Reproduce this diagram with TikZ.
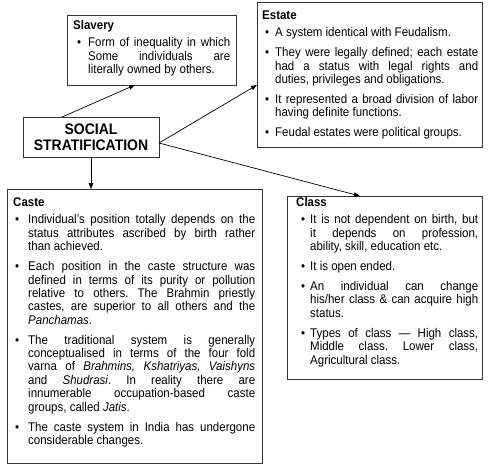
\documentclass[tikz,border=0pt]{standalone}
\usepackage{fontspec}
\setmainfont[FakeStretch=0.913]{Liberation Sans}
\usetikzlibrary{arrows.meta,calc}
\newlength\bpos
\newlength\tind
\newcommand\itm[1]{\par\vspace{6.5pt}\noindent\hangindent=\tind\hangafter=1\makebox[\tind][l]{\hspace{\bpos}\textbullet}#1\par}
\newcommand\ttl[1]{\noindent{\bfseries #1}\par\vspace{-2pt}}
\frenchspacing
\begin{document}
\begin{tikzpicture}[x=1pt,y=-1pt,
  box/.style={draw=black!80, line width=0.8pt, inner sep=0pt, outer sep=0pt, anchor=north west, rectangle},
  txt/.style={inner sep=0pt, anchor=base west, align=justify, font=\fontsize{12.6}{13.4}\selectfont,
    execute at begin node={\tolerance=9999\hbadness=10000\parindent=0pt\frenchspacing}},
  arr/.style={-{Triangle[length=6pt,width=4.5pt]}, line width=0.7pt, black}]
\useasboundingbox (0,0) rectangle (488,467);

% boxes
\node[box, minimum width=169pt, minimum height=70pt] (slavery) at (67,15) {};
\node[box, minimum width=225pt, minimum height=145pt] (estate) at (257,2) {};
\node[box, minimum width=136pt, minimum height=40pt, align=center,
      font=\fontsize{15.3}{16.5}\selectfont\bfseries] (ss) at (23,117) {SOCIAL\\STRATIFICATION};
\node[box, minimum width=255pt, minimum height=274pt] (caste) at (7,189) {};
\node[box, minimum width=195pt, minimum height=183pt] (class) at (287,196) {};

% texts
\node[txt, text width=157pt] (slaveryT) at (73,29) {\setlength\bpos{4pt}\setlength\tind{15pt}%
\ttl{Slavery}
\itm{Form of inequality in which\linebreak Some individuals are\linebreak literally owned by others.}};

\node[txt, text width=216pt] (estateT) at (262,19) {\setlength\bpos{3pt}\setlength\tind{13pt}%
\ttl{Estate}
\itm{A system identical with Feudalism.}
\itm{They were legally defined; each estate\linebreak had a status with legal rights and\linebreak duties, privileges and obligations.}
\itm{It represented a broad division of labor\linebreak having definite functions.}
\itm{Feudal estates were political groups.}};

\node[txt, text width=242pt] (casteT) at (13,206) {\setlength\bpos{2pt}\setlength\tind{15pt}%
\ttl{Caste}
\itm{Individual’s position totally depends on the\linebreak status attributes ascribed by birth rather\linebreak than achieved.}
\itm{Each position in the caste structure was\linebreak defined in terms of its purity or pollution\linebreak relative to others. The Brahmin priestly\linebreak castes, are superior to all others and the\linebreak \textit{Panchamas}.}
\itm{The traditional system is generally\linebreak conceptualised in terms of the four fold\linebreak varna of \textit{Brahmins, Kshatriyas, Vaishyns}\linebreak and \textit{Shudrasi}. In reality there are\linebreak innumerable occupation-based caste\linebreak groups, called \textit{Jatis}.}
\itm{The caste system in India has undergone\linebreak considerable changes.}};

\node[txt, text width=182pt] (classT) at (296,206) {\setlength\bpos{5pt}\setlength\tind{14pt}%
\ttl{Class}
\itm{It is not dependent on birth, but\linebreak it depends on profession,\linebreak ability, skill, education etc.}
\itm{It is open ended.}
\itm{An individual can change\linebreak his/her class \& can acquire high\linebreak status.}
\itm{Types of class — High class,\linebreak Middle class. Lower class,\linebreak Agricultural class.}};

% connectors
\draw[arr] ($(ss.north west)!0.287!(ss.north east)$) -- ($(slavery.south west)!0.402!(slavery.south east)$);
\draw[arr] ($(ss.north east)!0.65!(ss.south east)$) -- ($(estate.north west)!0.572!(estate.south west)$);
\draw[arr] ($(ss.north east)!0.65!(ss.south east)$) -- ($(class.north west)!0.374!(class.north east)$);
\draw[arr] (ss.south) -- (ss.south |- caste.north);
\end{tikzpicture}
\end{document}
